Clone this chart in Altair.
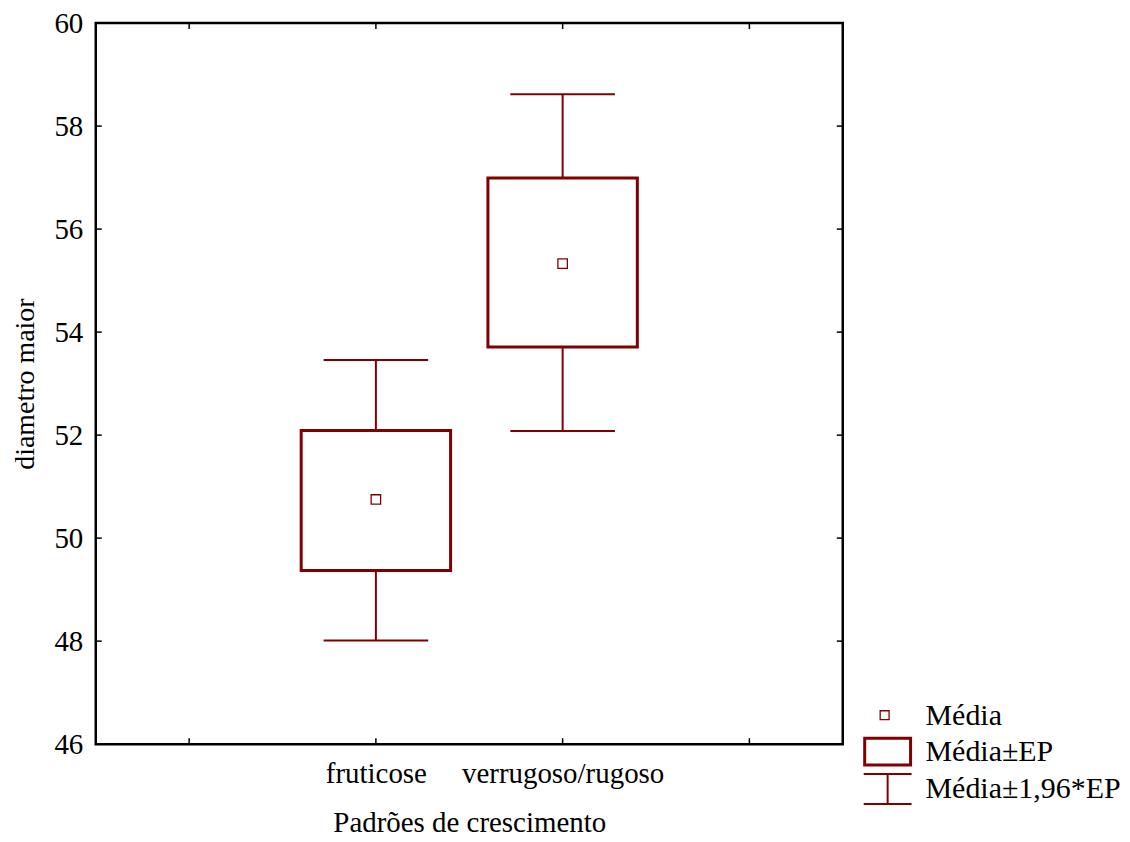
import altair as alt
import pandas as pd

# ---- data ----
categories = ["fruticose", "verrugoso/rugoso"]
slots = [2, 3]                      # position of each category on the 4-slot axis
means = [50.75, 55.33]
se_lo = [49.37, 53.71]
se_hi = [52.09, 56.99]
ci_lo = [48.01, 52.08]
ci_hi = [53.46, 58.62]

y_ticks = [46, 48, 50, 52, 54, 56, 58, 60]
x_ticks = [1, 2, 3, 4]
legend_labels = ["Média", "Média±EP", "Média±1,96*EP"]

df = pd.DataFrame({
    "cat": categories, "slot": slots, "mean": means,
    "se_lo": se_lo, "se_hi": se_hi, "ci_lo": ci_lo, "ci_hi": ci_hi,
})

RED = "#800000"
FONT = "Liberation Serif"
FS = 29
W, H = 749, 723

xs = alt.Scale(domain=[0.5, 4.5], nice=False, zero=False)
ys = alt.Scale(domain=[46, 60], nice=False, zero=False)

x_axis = alt.Axis(values=x_ticks, ticks=False, domain=False, grid=False, labelLimit=0,
                  labelExpr="datum.value == 2 ? 'fruticose' : datum.value == 3 ? 'verrugoso/rugoso' : ''",
                  labelPadding=15, title="Padrões de crescimento", titlePadding=21)
y_axis = alt.Axis(values=y_ticks, ticks=False, domain=False, grid=False,
                  labelPadding=13, title="diametro maior", titlePadding=14, titleFontSize=28)

base = alt.Chart(df).transform_calculate(
    box_l="datum.slot - 0.4", box_r="datum.slot + 0.4",
    cap_l="datum.slot - 0.28", cap_r="datum.slot + 0.28",
)

whisker = base.mark_rule(color=RED, strokeWidth=2).encode(
    x=alt.X("slot:Q", scale=xs, axis=x_axis),
    y=alt.Y("ci_lo:Q", scale=ys, axis=y_axis),
    y2="ci_hi:Q",
)
cap_top = base.mark_rule(color=RED, strokeWidth=2).encode(
    x=alt.X("cap_l:Q", scale=xs, axis=x_axis), x2="cap_r:Q",
    y=alt.Y("ci_hi:Q", scale=ys, axis=y_axis),
)
cap_bot = base.mark_rule(color=RED, strokeWidth=2).encode(
    x=alt.X("cap_l:Q", scale=xs, axis=x_axis), x2="cap_r:Q",
    y=alt.Y("ci_lo:Q", scale=ys, axis=y_axis),
)
box = base.mark_rect(fill="white", stroke=RED, strokeWidth=3).encode(
    x=alt.X("box_l:Q", scale=xs, axis=x_axis), x2="box_r:Q",
    y=alt.Y("se_lo:Q", scale=ys, axis=y_axis), y2="se_hi:Q",
)
mean_pt = base.mark_point(shape="square", filled=False, color=RED, size=90, strokeWidth=1.3, opacity=1).encode(
    x=alt.X("slot:Q", scale=xs, axis=x_axis),
    y=alt.Y("mean:Q", scale=ys, axis=y_axis),
)

# inward ticks on all four sides
ydf = pd.DataFrame({"v": y_ticks})
xdf = pd.DataFrame({"v": x_ticks})
tick_l = alt.Chart(ydf).mark_rule(color="black", strokeWidth=1.5).encode(
    y=alt.Y("v:Q", scale=ys, axis=y_axis), x=alt.value(0), x2=alt.value(6))
tick_r = alt.Chart(ydf).mark_rule(color="black", strokeWidth=1.5).encode(
    y=alt.Y("v:Q", scale=ys, axis=y_axis), x=alt.value(W - 6), x2=alt.value(W))
tick_b = alt.Chart(xdf).mark_rule(color="black", strokeWidth=1.5).encode(
    x=alt.X("v:Q", scale=xs, axis=x_axis), y=alt.value(H - 6), y2=alt.value(H))
tick_t = alt.Chart(xdf).mark_rule(color="black", strokeWidth=1.5).encode(
    x=alt.X("v:Q", scale=xs, axis=x_axis), y=alt.value(0), y2=alt.value(6))

# legend (outside the plot, bottom right)
one = alt.Data(values=[{"k": 0}])
lg_sq = alt.Chart(one).mark_point(shape="square", filled=False, color=RED, size=80, strokeWidth=1.3, opacity=1).encode(
    x=alt.value(791), y=alt.value(694))
lg_box = alt.Chart(one).mark_rect(fill="white", stroke=RED, strokeWidth=3).encode(
    x=alt.value(771), x2=alt.value(817), y=alt.value(717), y2=alt.value(744))
lg_i_top = alt.Chart(one).mark_rule(color=RED, strokeWidth=2).encode(
    x=alt.value(770), x2=alt.value(818), y=alt.value(753))
lg_i_bot = alt.Chart(one).mark_rule(color=RED, strokeWidth=2).encode(
    x=alt.value(770), x2=alt.value(818), y=alt.value(783))
lg_i_mid = alt.Chart(one).mark_rule(color=RED, strokeWidth=2).encode(
    x=alt.value(794), y=alt.value(753), y2=alt.value(783))

lg_texts = []
for lab, yy in zip(legend_labels, [695, 731, 768]):
    lg_texts.append(
        alt.Chart(alt.Data(values=[{"t": lab}])).mark_text(
            align="left", baseline="middle", font=FONT, fontSize=30, color="black"
        ).encode(x=alt.value(832), y=alt.value(yy), text="t:N")
    )

chart = alt.layer(
    whisker, cap_top, cap_bot, box, mean_pt,
    tick_l, tick_r, tick_b, tick_t,
    lg_sq, lg_box, lg_i_top, lg_i_bot, lg_i_mid, *lg_texts,
).properties(
    width=W, height=H,
    autosize=alt.AutoSizeParams(type="none"),
    padding={"left": 88, "top": 14, "right": 280, "bottom": 96},
    background="white",
).configure(
    font=FONT
).configure_view(
    stroke="black", strokeWidth=2.5
).configure_axis(
    labelFont=FONT, labelFontSize=FS, labelColor="black",
    titleFont=FONT, titleFontSize=FS, titleColor="black", titleFontWeight="normal",
)

chart.save("out.html", embed_options={"renderer": "svg", "actions": False})
